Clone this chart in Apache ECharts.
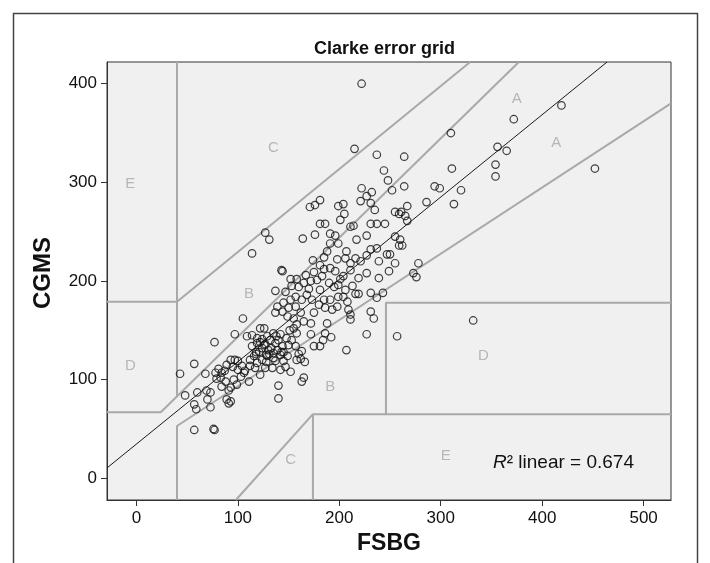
<!DOCTYPE html>
<html>
<head>
<meta charset="utf-8">
<script src="https://cdn.jsdelivr.net/npm/echarts@6/dist/echarts.min.js"></script>
<style>html,body{margin:0;padding:0;background:#fff}#c{width:710px;height:563px}</style>
</head>
<body>
<div id="c"></div>
<script>
// ---- data ----
const chartTitle = 'Clarke error grid';
const xName = 'FSBG';
const yName = 'CGMS';
const xTicks = [0, 100, 200, 300, 400, 500];
const yTicks = [0, 100, 200, 300, 400];
const xMin = -29, xMax = 527, yMin = -22, yMax = 422;

// scatter points: FSBG (x) and CGMS (y)
const fsbg = [
77,57,43,68,48,60,69,73,70,57,59,73,89,93,91,57,76,77,78,81,84,83,87,89,93,97,100,95,100,104,107,112,112,116,121,124,127,119,114,119,124,129,122,111,103,99,93,84,91,96,106,79,88,127,130,
105,97,122,126,109,114,119,124,129,
171,176,199,204,221,231,205,201,181,186,211,214,231,237,235,245,176,164,191,196,199,191,217,227,231,237,207,188,185,174,198,206,216,211,221,227,239,247,249,227,239,219,211,204,201,196,191,185,181,175,167,158,152,144,143,137,147,153,160,165,172,178,183,190,195,199,206,213,216,219,204,208,198,191,185,180,173,168,163,157,152,145,139,144,150,157,162,155,149,137,165,158,172,175,186,193,209,211,211,188,231,234,237,243,231,199,181,170,181,
215,237,264,244,248,252,264,222,232,227,294,299,286,267,255,259,261,265,255,260,259,262,250,255,278,267,
186,192,184,181,175,207,158,172,157,160,163,162,166,158,152,163,165,140,140,135,142,148,137,144,150,135,142,149,137,145,134,142,147,139,132,153,
222,114,127,131,310,311,320,313,354,354,356,365,372,419,452,332,257,227,273,276,
126,131,118,135,140,128,145,117,
122,133,138,143,151,128,155,118
];
const cgms = [
138,116,106,106,84,87,89,87,80,75,70,72,80,78,76,49,50,49,107,111,107,102,109,115,120,120,119,113,110,114,109,114,120,124,128,132,136,137,134,117,120,124,105,98,103,95,92,93,89,100,107,101,98,112,130,
162,146,152,152,144,145,142,141,144,
275,277,276,278,281,279,268,262,258,258,255,256,258,258,272,258,247,243,248,246,238,238,242,246,232,233,230,230,224,221,222,223,223,218,220,226,220,227,210,208,203,203,211,205,202,210,213,212,216,209,206,202,202,210,211,190,189,195,194,198,200,201,205,198,194,196,191,195,187,187,184,179,174,181,181,176,181,186,181,184,181,178,174,169,173,174,168,162,164,168,159,156,157,168,173,171,171,166,161,157,169,162,183,188,188,184,191,192,282,
334,328,326,312,302,292,296,294,290,286,296,294,280,276,270,268,270,266,245,242,236,236,227,218,218,261,
147,143,140,134,134,130,147,146,134,126,129,121,118,120,108,98,102,94,81,147,146,142,137,134,135,127,125,124,119,119,112,110,113,130,140,140,
400,228,249,242,350,314,292,278,318,306,336,332,364,378,314,160,144,146,208,204,
135,126,128,122,140,118,128,112,
138,132,144,128,150,125,152,126
];

// zone boundary polylines (FSBG, CGMS)
const zoneLines = [
  [[xMin, 179], [40, 179], [329, yMax]],
  [[40, yMax], [40, 83]],
  [[xMin, 67], [24, 67], [377, yMax]],
  [[40, yMin], [40, 53], [xMax, 380]],
  [[98, yMin], [174, 65]],
  [[174, yMin], [174, 65], [xMax, 65]],
  [[246, 65], [246, 178], [xMax, 178]]
];
// linear fit line end points
const fitLine = [[xMin, 10.5], [464, yMax]];
const r2Text = '0.674';

// zone letters
const zoneNames = ['A', 'A', 'C', 'E', 'B', 'D', 'B', 'C', 'D', 'E'];
const zoneX = [375, 414, 135, -6, 111, -6, 191, 152, 342, 305];
const zoneY = [385, 340, 335, 298, 187, 114, 93, 19, 124, 23];

// ---- chart ----
const FONT = '"Liberation Sans", Arial, Helvetica, sans-serif';
const points = fsbg.map((v, i) => [v, cgms[i]]);
const series = [];
zoneLines.forEach(pl => series.push({
  type: 'line', data: pl, symbol: 'none', silent: true, clip: true, z: 2,
  lineStyle: {color: '#a9a9a9', width: 2}, animation: false
}));
series.push({
  type: 'line', data: fitLine, symbol: 'none', silent: true, clip: true, z: 3,
  lineStyle: {color: '#1a1a1a', width: 1}, animation: false
});
series.push({
  type: 'scatter', data: points, symbol: 'circle', symbolSize: 7.5, z: 4,
  itemStyle: {color: 'rgba(0,0,0,0)', borderColor: '#111', borderWidth: 1.2},
  animation: false
});
series.push({
  type: 'scatter', silent: true, z: 5, symbolSize: 1,
  itemStyle: {color: 'rgba(0,0,0,0)'},
  data: zoneNames.map((n, i) => ({name: n, value: [zoneX[i], zoneY[i]]})),
  label: {show: true, position: 'inside', formatter: p => p.name, color: '#a8a8a8', fontSize: 15, fontFamily: FONT},
  animation: false
});

const chart = echarts.init(document.getElementById('c'), null, {renderer: 'canvas'});
chart.setOption({
  animation: false,
  backgroundColor: '#ffffff',
  title: {
    text: chartTitle, left: 309, top: 35,
    textStyle: {fontSize: 18, fontWeight: 'bold', color: '#111', fontFamily: FONT}
  },
  grid: {
    left: 107, right: 39, top: 62, bottom: 63, show: true,
    backgroundColor: '#f0f0f0', borderColor: '#333', borderWidth: 1,
    outerBoundsMode: 'none', containLabel: false
  },
  xAxis: {
    type: 'value', min: xMin, max: xMax,
    name: xName, nameLocation: 'middle', nameGap: 26,
    nameTextStyle: {fontSize: 23, fontWeight: 'bold', color: '#111', fontFamily: FONT},
    axisLine: {show: true, onZero: false, lineStyle: {color: '#333', width: 1}},
    axisTick: {show: true, length: 6, customValues: xTicks, lineStyle: {color: '#333'}},
    axisLabel: {customValues: xTicks, fontSize: 17, color: '#111', margin: 10, fontFamily: FONT},
    splitLine: {show: false}
  },
  yAxis: {
    type: 'value', min: yMin, max: yMax,
    name: yName, nameLocation: 'middle', nameGap: 52, nameRotate: 90,
    nameTextStyle: {fontSize: 24, fontWeight: 'bold', color: '#111', fontFamily: FONT, padding: [0, 0, 0, 16]},
    axisLine: {show: true, onZero: false, lineStyle: {color: '#333', width: 1}},
    axisTick: {show: true, length: 6, customValues: yTicks, lineStyle: {color: '#333'}},
    axisLabel: {customValues: yTicks, fontSize: 17, color: '#111', margin: 10, fontFamily: FONT},
    splitLine: {show: false}
  },
  graphic: [
    {type: 'rect', silent: true, z: -10,
     shape: {x: 13.5, y: 13.5, width: 684, height: 570},
     style: {fill: 'none', stroke: '#444', lineWidth: 1.5}},
    {type: 'text', silent: true, z: 10, left: 493, top: 453,
     style: {text: '{i|R}² linear = ' + r2Text, fontSize: 19, fill: '#111', fontFamily: FONT,
       rich: {i: {fontStyle: 'italic', fontSize: 19, fontFamily: FONT, fill: '#111'}}}}
  ],
  series: series
});
</script>
</body>
</html>
